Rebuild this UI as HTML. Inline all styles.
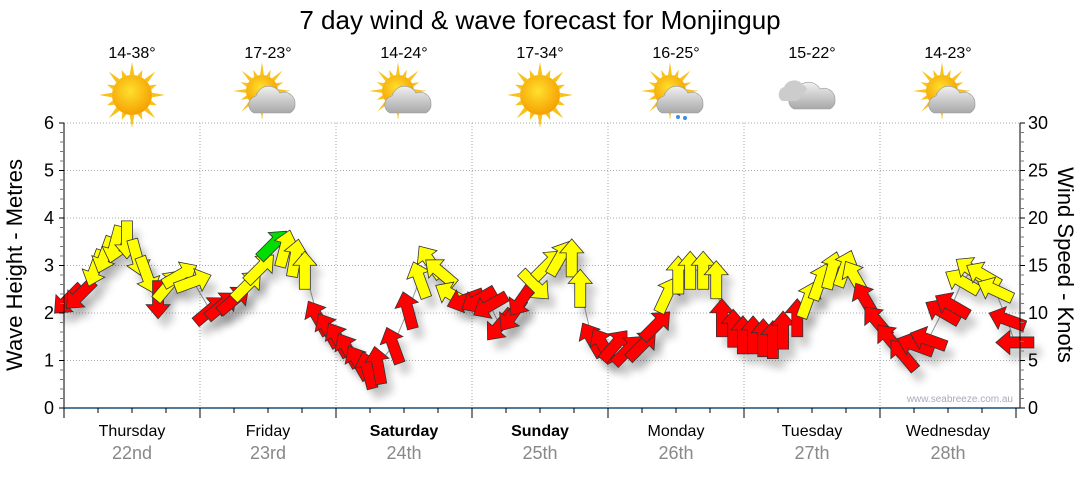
<!DOCTYPE html>
<html><head><meta charset="utf-8"><style>
body{margin:0;background:#fff;width:1080px;height:475px;overflow:hidden;font-family:"Liberation Sans",sans-serif}
</style></head><body>
<svg id="c" width="1080" height="475" xmlns="http://www.w3.org/2000/svg">
<defs>
<filter id="sh" x="-50%" y="-50%" width="200%" height="200%"><feGaussianBlur stdDeviation="4"/></filter>
<radialGradient id="sun" cx="45%" cy="40%" r="60%"><stop offset="0" stop-color="#ffe030"/><stop offset="1" stop-color="#f5a000"/></radialGradient>
<linearGradient id="cl" x1="0" y1="0" x2="0" y2="1"><stop offset="0" stop-color="#f0f0f0"/><stop offset="1" stop-color="#a8a8a8"/></linearGradient>
</defs>
<text x="540" y="29" text-anchor="middle" font-size="26" fill="#000">7 day wind &amp; wave forecast for Monjingup</text>
<g id="hdr"></g>
<g id="grid"></g>
<g id="marks"></g>
<g id="axes"></g>
<text x="1013" y="402" text-anchor="end" font-size="10" fill="#aab">www.seabreeze.com.au</text>
<text transform="translate(22,265) rotate(-90)" text-anchor="middle" font-size="22">Wave Height - Metres</text>
<text transform="translate(1058,265) rotate(90)" text-anchor="middle" font-size="22">Wind Speed - Knots</text>
</svg>
<script>
const days=["Thursday","Friday","Saturday","Sunday","Monday","Tuesday","Wednesday"];
const dates=["22nd","23rd","24th","25th","26th","27th","28th"];
const temps=["14-38°","17-23°","14-24°","17-34°","16-25°","15-22°","14-23°"];
const icons=["sun","partly","partly","sun","rain","cloud","partly"];
const leftTicks=[0,1,2,3,4,5,6];
const rightTicks=[0,5,10,15,20,25,30];
const hours=[0.7,2.8,5.5,7.2,9.0,11.1,12.9,14.6,16.6,18.4,20.5,22.8,25.8,27.9,30.0,32.3,34.6,36.9,39.0,40.8,42.5,44.8,46.6,48.4,50.1,51.9,53.6,55.4,58.1,60.7,62.8,64.6,66.4,68.5,70.8,73.1,75.2,76.9,79.1,80.8,83.1,85.4,87.5,89.6,91.1,93.2,95.1,97.2,99.5,102.0,104.5,106.4,108.4,110.5,112.8,115.1,116.1,118.1,119.8,121.6,123.4,125.1,126.9,129.4,131.3,133.4,135.5,137.8,139.6,141.4,143.5,145.8,148.1,150.2,152.5,155.0,156.7,158.5,160.2,162.2,164.3,166.4,167.8];
const knots=[11.4,11.9,14.7,16.1,17.2,17.7,15.8,14.0,11.4,12.9,14.0,13.3,10.3,10.8,11.4,12.9,14.7,17.2,16.8,15.8,14.5,9.5,8.2,7.2,6.1,4.8,4.0,4.5,6.6,10.3,13.5,15.4,14.3,11.9,11.4,11.4,10.8,8.7,9.8,11.4,12.9,15.1,15.8,15.8,12.6,7.2,6.6,6.6,6.1,6.6,8.7,11.9,14.0,14.5,14.5,13.5,9.5,8.4,7.7,7.7,7.4,7.2,8.2,9.5,11.4,13.3,14.5,14.7,13.7,11.4,9.1,7.2,5.6,6.6,7.2,10.1,10.8,13.3,14.5,14.0,12.4,9.3,6.9];
const dirs=[225,225,200,200,195,180,165,160,180,40,60,70,50,50,50,45,45,45,15,10,0,330,330,330,330,330,345,350,340,345,340,325,310,300,250,240,240,220,215,215,135,45,30,0,0,330,330,40,45,45,45,25,0,0,0,0,0,0,0,0,0,0,0,0,20,20,15,20,330,330,320,320,320,290,290,300,300,300,305,300,295,290,270];
const colors="rryyyyyyryyyrrryygyyyrrrrrrrrryyyyrrrrrryyyyyrrrrrryyyyyrrrrrrrryyyyyrrrrrrrryyyyrr".split("");
const NS="http://www.w3.org/2000/svg";
const X0=64,X1=1016,Y0=408,Y1=123;
const xH=h=>X0+h*(X1-X0)/168;
const yM=m=>Y0-m*(Y0-Y1)/6;
const yK=k=>Y0-k*(Y0-Y1)/30;
function mk(t,a,p){const e=document.createElementNS(NS,t);for(const k in a)e.setAttribute(k,a[k]);(p||document.getElementById('c')).appendChild(e);return e;}
const grid=document.getElementById('grid'),axes=document.getElementById('axes'),marks=document.getElementById('marks'),hdr=document.getElementById('hdr');
leftTicks.forEach(v=>{if(v>0){const l=mk('line',{x1:X0,x2:1020,y1:yM(v),y2:yM(v),stroke:'#aaa','stroke-dasharray':'1,2'},grid);

}});
for(let d=1;d<7;d++){const l=mk('line',{x1:X0+d*136,x2:X0+d*136,y1:Y1,y2:Y0,stroke:'#aaa','stroke-dasharray':'1,2'},grid);

}
mk('line',{x1:X0,x2:X0,y1:Y1,y2:Y0+4,stroke:'#000'},axes);
mk('line',{x1:1020,x2:1020,y1:Y1,y2:Y0,stroke:'#000'},axes);
mk('line',{x1:X0,x2:1020,y1:Y0,y2:Y0,stroke:'#1d4f78','stroke-width':1.5},axes);
for(let i=0;i<=30;i++){const y=Y0-i*(Y0-Y1)/30;const big=i%5==0;
mk('line',{x1:X0-(big?5:4),x2:X0,y1:y,y2:y,stroke:big?'#000':'#777'},axes);
mk('line',{x1:1020,x2:1020+(big?5:4),y1:y,y2:y,stroke:big?'#000':'#777'},axes);}
leftTicks.forEach(v=>{const t=mk('text',{x:X0-10,y:yM(v)+6,'text-anchor':'end','font-size':18},axes);t.textContent=v;

});
rightTicks.forEach(v=>{const t=mk('text',{x:1028,y:yK(v)+6,'font-size':18},axes);t.textContent=v;

});
for(let i=0;i<=28;i++){const x=X0+i*34;const big=i%4==0;mk('line',{x1:x,x2:x,y1:Y0,y2:Y0+(big?10:5),stroke:'#000'},axes);}
days.forEach((d,i)=>{const cx=X0+i*136+68;
const t=mk('text',{x:cx,y:436,'text-anchor':'middle','font-size':16,'font-weight':(i==2||i==3)?'bold':'normal'},axes);t.textContent=d;


const t2=mk('text',{x:cx,y:459,'text-anchor':'middle','font-size':18,fill:'#888'},axes);t2.textContent=dates[i];


const t3=mk('text',{x:cx,y:58,'text-anchor':'middle','font-size':16},hdr);t3.textContent=temps[i];


const g=mk('g',{transform:`translate(${cx},95)`},hdr);


const k=icons[i];
if(k!='cloud'){const sx=k=='sun'?0:-6,sy=k=='sun'?0:-4,r=k=='sun'?20:16;
for(let a=0;a<16;a++){const an=a*Math.PI/8,L=(a%2?r+7:r+13);
mk('polygon',{points:`${sx+Math.cos(an-0.12)*r},${sy+Math.sin(an-0.12)*r} ${sx+Math.cos(an)*L},${sy+Math.sin(an)*L} ${sx+Math.cos(an+0.12)*r},${sy+Math.sin(an+0.12)*r}`,fill:'#f7c21a'},g);}
mk('circle',{cx:sx,cy:sy,r:r,fill:'url(#sun)'},g);}
if(k!='sun'){const ox=k=='cloud'?4:8,oy=k=='cloud'?2:6;
mk('path',{d:`M${ox-22},${oy+12} a9,9 0 0 1 2,-17 a13,13 0 0 1 24,-3 a11,11 0 0 1 15,11 a9,9 0 0 1 -5,9 z`,fill:'url(#cl)',stroke:'#999','stroke-width':0.6},g);
if(k=='cloud')mk('path',{d:`M-30,6 a8,8 0 0 1 2,-14 a11,11 0 0 1 19,-2 a8,8 0 0 1 4,4 l-10,12 z`,fill:'#ccc'},g);
if(k=='rain'){mk('circle',{cx:2,cy:22,r:2,fill:'#3a8de0'},g);mk('circle',{cx:9,cy:23,r:2,fill:'#3a8de0'},g);}}
});
const pts=hours.map((h,i)=>xH(h)+','+yK(knots[i])).join(' ');
const pl=mk('polyline',{points:pts,fill:'none',stroke:'#999','stroke-width':1},marks);


const arrow="0,-19 12,-5 5.5,-5 5.5,19 -5.5,19 -5.5,-5 -12,-5";
const cmap={r:'#ff0000',y:'#ffff00',g:'#00dd00'};
hours.forEach((h,i)=>{const x=xH(h),y=yK(knots[i]);
const s=mk('polygon',{points:arrow,fill:'#000',opacity:0.2,filter:'url(#sh)',transform:`translate(${x+7},${y+10}) rotate(${dirs[i]})`},marks);

});
hours.forEach((h,i)=>{const x=xH(h),y=yK(knots[i]);
const a=mk('polygon',{points:arrow,fill:cmap[colors[i]],stroke:'#333','stroke-width':0.8,transform:`translate(${x},${y}) rotate(${dirs[i]})`},marks);

});
</script>
</body></html>
